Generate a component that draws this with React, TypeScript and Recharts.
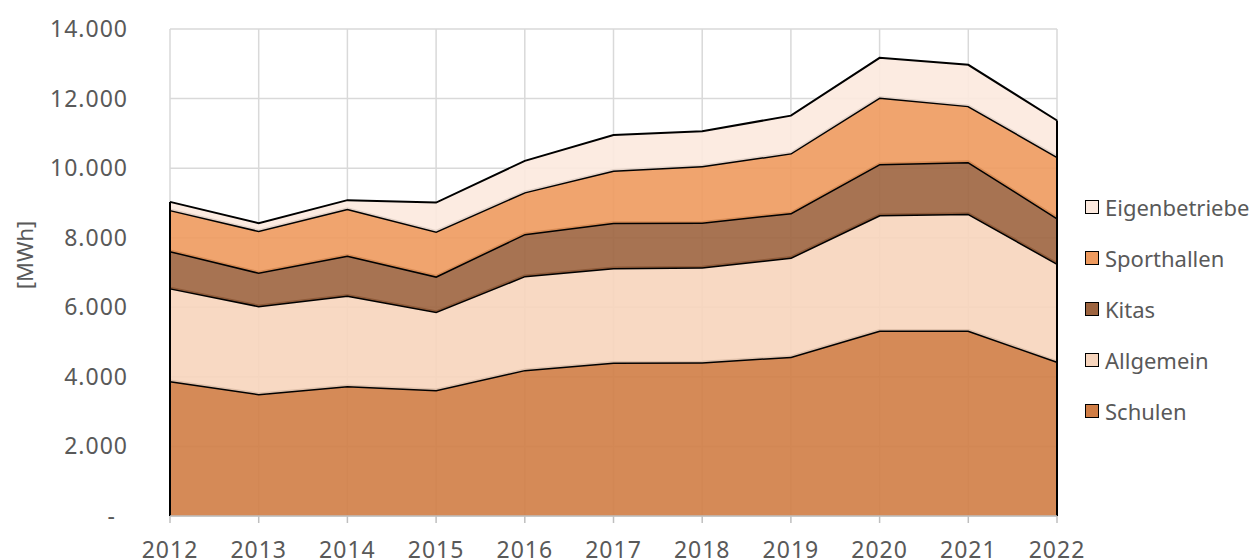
import { Area, AreaChart, CartesianGrid, ReferenceLine, XAxis, YAxis } from "recharts";

const years = ["2012", "2013", "2014", "2015", "2016", "2017", "2018", "2019", "2020", "2021", "2022"];
const schulen = [3880, 3510, 3740, 3620, 4200, 4410, 4420, 4580, 5330, 5330, 4440];
const allgemein = [2670, 2530, 2600, 2250, 2700, 2720, 2730, 2850, 3320, 3360, 2820];
const kitas = [1070, 960, 1150, 1020, 1210, 1300, 1290, 1280, 1470, 1490, 1310];
const sporthallen = [1180, 1200, 1340, 1290, 1200, 1500, 1620, 1720, 1910, 1610, 1760];
const eigenbetriebe = [230, 220, 250, 830, 900, 1020, 1000, 1080, 1140, 1180, 1040];
const yTicks = [0, 2000, 4000, 6000, 8000, 10000, 12000, 14000];

// bottom to top, as stacked
const series = [
  { key: "Schulen", values: schulen, color: "#d07d45" },
  { key: "Allgemein", values: allgemein, color: "#f7d5bd" },
  { key: "Kitas", values: kitas, color: "#9d643f" },
  { key: "Sporthallen", values: sporthallen, color: "#ee9a5e" },
  { key: "Eigenbetriebe", values: eigenbetriebe, color: "#fce9de" },
];

const data = years.map((year, i) => {
  const row: Record<string, string | number> = { year };
  series.forEach((s) => (row[s.key] = s.values[i]));
  return row;
});

const totalAt = (i: number) => series.reduce((sum, s) => sum + s.values[i], 0);
const last = years.length - 1;

const FONT = "'Noto Sans', sans-serif";
const INK = "#595959";

const fmt = (v: number) => String(v).replace(/\B(?=(\d{3})+(?!\d))/g, ".");

function YTick({ x, y, payload }: any) {
  const v = payload.value as number;
  return (
    <text
      x={v === 0 ? x - 12 : x}
      y={y}
      dy="0.35em"
      textAnchor="end"
      fill={INK}
      fontSize={23}
      letterSpacing={1}
      fontFamily={FONT}
    >
      {v === 0 ? "-" : fmt(v)}
    </text>
  );
}

export default function App() {
  return (
    <div style={{ position: "absolute", left: 0, top: 0, width: 1257, height: 559, background: "#fff" }}>
      <AreaChart width={1257} height={559} data={data} margin={{ top: 29, right: 200, bottom: 0, left: 0 }}>
        <CartesianGrid stroke="#d9d9d9" strokeWidth={1.5} />
        <XAxis
          dataKey="year"
          height={43}
          stroke="#bfbfbf"
          strokeWidth={1.5}
          tickSize={7}
          tickMargin={19}
          tick={{ fill: INK, fontSize: 23, fontFamily: FONT, letterSpacing: 1 }}
        />
        <YAxis
          width={170}
          domain={[0, 14000]}
          ticks={yTicks}
          axisLine={false}
          tickLine={false}
          tickMargin={36}
          tick={<YTick />}
          label={{
            content: () => (
              <text
                x={24}
                y={255}
                transform="rotate(-90 24 255)"
                textAnchor="middle"
                dominantBaseline="central"
                fill={INK}
                fontSize={22}
                fontFamily={FONT}
              >
                [MWh]
              </text>
            ),
          }}
        />
        {series.map((s, i) => (
          <Area
            key={s.key}
            type="linear"
            dataKey={s.key}
            stackId="1"
            fill={s.color}
            fillOpacity={0.9}
            stroke="#000"
            strokeWidth={i === series.length - 1 ? 2 : 3}
            isAnimationActive={false}
          />
        ))}
        <ReferenceLine
          segment={[{ x: years[0], y: 0 }, { x: years[0], y: totalAt(0) }]}
          stroke="#000"
          strokeWidth={2}
        />
        <ReferenceLine
          segment={[{ x: years[last], y: 0 }, { x: years[last], y: totalAt(last) }]}
          stroke="#000"
          strokeWidth={2}
        />
      </AreaChart>
      <div style={{ position: "absolute", left: 1085, top: 181, fontFamily: FONT, fontSize: 22, color: INK }}>
        {[...series].reverse().map((s) => (
          <div key={s.key} style={{ display: "flex", alignItems: "center", height: 51 }}>
            <span
              style={{
                width: 12,
                height: 12,
                background: s.color,
                border: "1.5px solid #000",
                marginRight: 6,
                display: "inline-block",
              }}
            />
            <span>{s.key}</span>
          </div>
        ))}
      </div>
    </div>
  );
}
